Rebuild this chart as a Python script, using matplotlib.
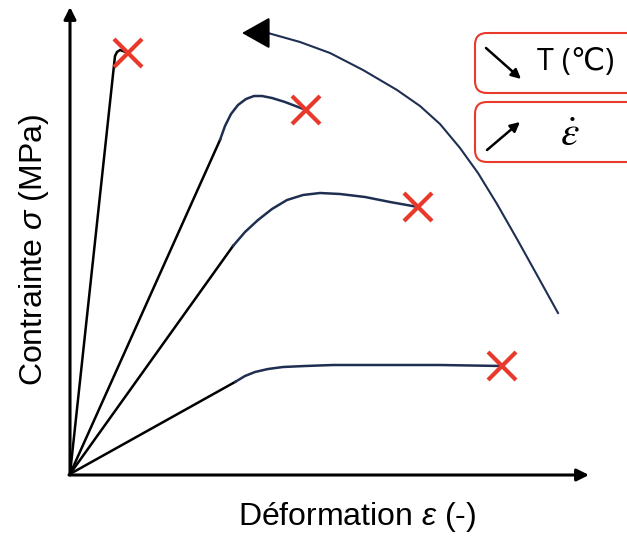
import matplotlib.pyplot as plt
from matplotlib.patches import FancyBboxPatch

plt.rcParams['font.family'] = ['Liberation Sans', 'DejaVu Sans']
plt.rcParams['mathtext.fontset'] = 'custom'
plt.rcParams['mathtext.it'] = 'Liberation Sans:italic'
plt.rcParams['mathtext.rm'] = 'Liberation Sans'

navy = '#1f2f52'
rouge = '#e8392b'

# Courbe 1 : fragile (noire)
c1_x = [0.0, 0.45, 0.47, 0.50, 0.53, 0.58]
c1_y = [0.0, 4.18, 4.22, 4.24, 4.23, 4.21]

# Courbes 2-4 : partie élastique (noire) puis plastique (bleue)
c2_el_x = [0.0, 1.50]
c2_el_y = [0.0, 3.34]
c2_x = [1.50, 1.55, 1.61, 1.68, 1.76, 1.84, 1.92, 2.02, 2.15, 2.28, 2.36]
c2_y = [3.34, 3.48, 3.60, 3.69, 3.75, 3.78, 3.78, 3.76, 3.72, 3.67, 3.64]

c3_el_x = [0.0, 1.63]
c3_el_y = [0.0, 2.28]
c3_x = [1.63, 1.75, 1.88, 2.02, 2.17, 2.33, 2.50, 2.70, 2.95, 3.20, 3.48]
c3_y = [2.28, 2.42, 2.54, 2.65, 2.74, 2.79, 2.81, 2.80, 2.77, 2.72, 2.67]

c4_el_x = [0.0, 1.65]
c4_el_y = [0.0, 0.92]
c4_x = [1.65, 1.75, 1.85, 1.98, 2.13, 2.35, 2.63, 3.10, 3.70, 4.32]
c4_y = [0.92, 0.98, 1.02, 1.05, 1.07, 1.08, 1.09, 1.09, 1.09, 1.08]

# Points de rupture
rupt_x = [0.58, 2.36, 3.48, 4.32]
rupt_y = [4.21, 3.64, 2.67, 1.08]

# Grande flèche (tendance)
fl_x = [4.88, 4.67, 4.47, 4.27, 4.08, 3.90, 3.70, 3.50, 3.27, 2.93, 2.60, 2.30, 1.98]
fl_y = [1.61, 1.99, 2.35, 2.70, 3.01, 3.26, 3.50, 3.68, 3.84, 4.04, 4.21, 4.32, 4.41]
fl_pointe = (1.72, 4.41)

fig = plt.figure(figsize=(6.27, 5.36), dpi=100)
ax = fig.add_axes([0, 0, 1, 1])
ax.set_xlim(-0.70, 5.57)
ax.set_ylim(-0.62, 4.74)
ax.axis('off')

# axes avec flèches
ax.annotate('', xy=(0, 4.67), xytext=(0, -0.01),
            arrowprops=dict(arrowstyle='-|>', color='black', lw=2.2,
                            mutation_scale=18, shrinkA=0, shrinkB=0))
ax.annotate('', xy=(5.19, -0.01), xytext=(-0.01, -0.01),
            arrowprops=dict(arrowstyle='-|>', color='black', lw=2.2,
                            mutation_scale=18, shrinkA=0, shrinkB=0))

lw = 1.8
ax.plot(c1_x, c1_y, color='black', lw=lw, solid_capstyle='round',
        solid_joinstyle='round')
for ex, ey, px, py in [(c2_el_x, c2_el_y, c2_x, c2_y),
                       (c3_el_x, c3_el_y, c3_x, c3_y),
                       (c4_el_x, c4_el_y, c4_x, c4_y)]:
    ax.plot(ex, ey, color='black', lw=lw)
    ax.plot(px, py, color=navy, lw=lw, solid_capstyle='round',
            solid_joinstyle='round')

ax.plot(rupt_x, rupt_y, 'x', color=rouge, ms=20, mew=3, ls='none')

ax.plot(fl_x, fl_y, color=navy, lw=1.5, solid_joinstyle='round')
ax.annotate('', xy=fl_pointe, xytext=(fl_x[-1], fl_y[-1]),
            arrowprops=dict(arrowstyle='-|>,head_length=0.8,head_width=0.45',
                            color='black', lw=1.5, mutation_scale=22,
                            shrinkA=0, shrinkB=0))

# encadrés
for y0 in [3.81, 3.12]:
    ax.add_patch(FancyBboxPatch((4.05, y0), 1.7, 0.60,
                                boxstyle='round,pad=0,rounding_size=0.12',
                                fc='white', ec=rouge, lw=1.5))
ax.annotate('', xy=(4.51, 3.95), xytext=(4.16, 4.26),
            arrowprops=dict(arrowstyle='-|>', color='black', lw=1.8,
                            mutation_scale=14, shrinkA=0, shrinkB=0))
ax.annotate('', xy=(4.50, 3.52), xytext=(4.17, 3.24),
            arrowprops=dict(arrowstyle='-|>', color='black', lw=1.8,
                            mutation_scale=14, shrinkA=0, shrinkB=0))
ax.text(5.06, 4.12, 'T (℃)', fontsize=22, ha='center', va='center',
        family=['Open Sans', 'DejaVu Sans'])
ax.text(5.00, 3.39, r'$\dot{\varepsilon}$', fontsize=30, ha='center', va='center',
        math_fontfamily='stix')

ax.text(2.87, -0.43, r'Déformation $\varepsilon$ (-)', fontsize=23, ha='center', va='center')
ax.text(-0.36, 2.24, r'Contrainte $\sigma$ (MPa)', fontsize=23, ha='center', va='center',
        rotation=90)

fig.savefig('out.png', dpi=100)
